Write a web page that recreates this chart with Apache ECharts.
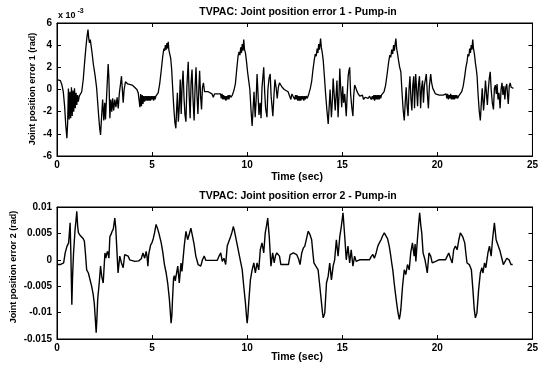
<!DOCTYPE html>
<html>
<head>
<meta charset="utf-8">
<script src="https://cdn.jsdelivr.net/npm/echarts@6/dist/echarts.min.js"></script>
<style>
html,body{margin:0;padding:0;background:#fff;}
#chart{width:541px;height:366px;}
</style>
</head>
<body>
<div id="chart"></div>
<script>
// Time ticks (sec)
const timeTicks = [0, 5, 10, 15, 20, 25];
// Joint position error 1 axis ticks (x 10^-3 rad)
const err1Ticks = [-6, -4, -2, 0, 2, 4, 6];
// Joint position error 2 axis ticks (rad)
const err2Ticks = [-0.015, -0.01, -0.005, 0, 0.005, 0.01];

const title1 = "TVPAC: Joint position error 1 - Pump-in";
const title2 = "TVPAC: Joint position error 2 - Pump-in";
const xName = "Time (sec)";
const yName1 = "Joint position error 1 (rad)";
const yName2 = "Joint position error 2 (rad)";

// [time (sec), error 1 (x 10^-3 rad)]
const err1 = [
[0.00,0.9],[0.08,1.0],[0.18,0.8],[0.26,0.4],[0.33,-0.2],[0.40,-1.5],[0.46,-3.2],[0.52,-4.4],[0.56,-3.0],[0.60,0.1],
[0.64,-2.7],[0.68,-0.2],[0.72,-2.6],[0.76,0.2],[0.80,-2.4],[0.84,-0.1],[0.88,-2.0],[0.92,0.1],[0.96,-1.7],[1.00,-0.3],
[1.04,-1.4],[1.08,-0.5],[1.12,-1.1],[1.17,-0.6],[1.22,-0.7],[1.30,-0.2],[1.38,0.9],[1.45,2.4],[1.52,3.8],[1.58,4.8],
[1.63,5.4],[1.67,4.6],[1.71,4.2],[1.75,4.5],[1.79,4.0],[1.85,3.2],[1.91,2.3],[2.00,1.3],[2.08,0.2],[2.14,-1.2],
[2.20,-2.6],[2.25,-3.6],[2.29,-4.1],[2.34,-2.6],[2.40,-0.9],[2.46,-2.8],[2.51,-1.2],[2.55,-2.7],[2.62,-0.2],[2.69,2.3],
[2.73,1.0],[2.78,-2.6],[2.83,-0.9],[2.88,-2.0],[2.93,-0.8],[2.98,-1.9],[3.04,-0.9],[3.10,-1.6],[3.16,-0.7],[3.22,-1.7],
[3.28,-0.3],[3.34,0.5],[3.39,1.2],[3.44,-0.1],[3.48,-1.2],[3.53,0.0],[3.60,0.7],[3.65,0.8],[3.72,0.5],[3.82,0.5],
[3.95,0.4],[4.08,0.2],[4.20,0.0],[4.27,-0.3],[4.32,-1.0],[4.36,-1.6],[4.40,-0.4],[4.44,-1.5],[4.48,-0.5],[4.52,-1.3],
[4.56,-0.6],[4.60,-1.1],[4.64,-0.6],[4.68,-1.0],[4.72,-0.6],[4.76,-1.0],[4.80,-0.6],[4.84,-1.0],[4.88,-0.6],[4.92,-1.0],
[4.96,-0.6],[5.00,-0.9],[5.04,-0.6],[5.08,-1.0],[5.12,-0.6],[5.16,-0.9],[5.20,-0.6],[5.25,-0.7],[5.32,-0.3],[5.40,0.5],
[5.48,1.7],[5.56,3.0],[5.62,3.7],[5.66,3.5],[5.70,4.0],[5.74,3.6],[5.78,4.2],[5.82,3.7],[5.85,4.3],[5.88,3.6],
[5.93,3.2],[5.98,2.8],[6.03,1.8],[6.08,0.2],[6.14,-1.6],[6.20,-3.0],[6.25,-3.5],[6.29,-1.8],[6.33,-0.3],[6.38,-2.9],
[6.43,-1.6],[6.48,0.9],[6.53,-2.2],[6.58,0.4],[6.63,1.7],[6.68,-0.8],[6.73,-2.3],[6.78,-2.9],[6.83,0.3],[6.90,2.5],
[6.95,-0.5],[7.00,-2.6],[7.05,0.6],[7.10,1.8],[7.15,-0.8],[7.21,-2.8],[7.26,0.2],[7.31,2.0],[7.36,-0.5],[7.41,-2.2],
[7.46,0.1],[7.50,1.7],[7.55,-0.6],[7.60,-1.8],[7.65,0.2],[7.70,0.6],[7.76,-0.2],[7.85,-0.2],[7.95,-0.2],[8.05,-0.3],
[8.15,-0.4],[8.22,-0.7],[8.28,-0.4],[8.35,-0.5],[8.45,-0.4],[8.55,-0.5],[8.60,-0.4],[8.64,-0.8],[8.68,-0.4],[8.72,-0.9],
[8.76,-0.5],[8.80,-0.9],[8.84,-0.6],[8.88,-1.0],[8.92,-0.6],[8.96,-0.9],[9.00,-0.5],[9.04,-0.9],[9.08,-0.5],[9.14,-0.7],
[9.22,-0.5],[9.30,-0.1],[9.38,0.5],[9.45,1.8],[9.52,3.0],[9.57,3.4],[9.62,3.1],[9.66,3.8],[9.70,3.3],[9.74,4.1],
[9.78,3.5],[9.82,4.5],[9.86,3.6],[9.91,3.3],[9.96,2.6],[10.02,1.6],[10.08,0.8],[10.14,0.0],[10.20,-1.8],[10.26,-3.3],
[10.31,-1.8],[10.36,-0.2],[10.42,-2.5],[10.47,-1.0],[10.52,1.4],[10.57,-0.4],[10.62,-2.3],[10.68,-1.2],[10.73,-2.6],[10.78,0.2],
[10.83,1.2],[10.87,2.0],[10.92,-0.2],[10.97,-1.7],[11.04,-2.5],[11.09,0.0],[11.15,1.0],[11.21,1.4],[11.26,-0.6],[11.31,-1.6],
[11.35,-2.4],[11.41,-0.5],[11.46,0.9],[11.52,0.2],[11.58,-0.8],[11.64,0.2],[11.70,0.6],[11.76,0.7],[11.84,0.2],[11.95,0.0],
[12.05,-0.1],[12.15,-0.2],[12.25,-0.3],[12.30,-0.9],[12.35,-0.4],[12.40,-0.5],[12.45,-0.4],[12.50,-0.9],[12.54,-0.5],[12.58,-0.9],
[12.62,-0.5],[12.66,-1.0],[12.70,-0.6],[12.74,-1.0],[12.78,-0.6],[12.82,-1.0],[12.86,-0.6],[12.90,-0.9],[12.94,-0.6],[12.98,-1.0],
[13.02,-0.6],[13.06,-0.9],[13.10,-0.6],[13.16,-0.8],[13.24,-0.4],[13.32,0.1],[13.39,0.7],[13.46,1.8],[13.53,2.7],[13.58,3.2],
[13.63,3.0],[13.68,3.7],[13.72,3.3],[13.76,4.1],[13.80,3.6],[13.86,4.6],[13.90,3.8],[13.95,3.3],[14.00,2.6],[14.06,1.2],
[14.12,-0.3],[14.19,-1.8],[14.26,-3.1],[14.31,-1.6],[14.36,0.0],[14.43,-2.5],[14.48,-1.0],[14.52,1.0],[14.58,-0.6],[14.63,-1.9],
[14.68,-0.4],[14.72,0.8],[14.78,-2.5],[14.83,-0.5],[14.87,1.9],[14.92,0.0],[14.97,-1.6],[15.02,0.3],[15.07,-1.2],[15.13,-0.4],
[15.21,-2.4],[15.26,-0.4],[15.31,1.2],[15.35,1.7],[15.39,2.0],[15.44,-0.4],[15.50,-1.6],[15.56,-2.4],[15.60,-0.6],[15.65,0.4],
[15.70,0.2],[15.76,-0.1],[15.84,-0.4],[15.92,-0.6],[16.00,-0.7],[16.06,-0.5],[16.12,-0.9],[16.20,-0.7],[16.28,-0.6],[16.36,-0.8],
[16.44,-0.6],[16.52,-0.9],[16.58,-0.6],[16.62,-0.9],[16.66,-0.5],[16.70,-1.0],[16.74,-0.5],[16.78,-0.9],[16.82,-0.5],[16.86,-0.9],
[16.90,-0.5],[16.94,-0.9],[16.98,-0.5],[17.02,-0.8],[17.06,-0.5],[17.12,-0.6],[17.20,-0.2],[17.28,0.4],[17.36,1.4],[17.44,2.5],
[17.50,3.1],[17.55,2.9],[17.60,3.6],[17.65,3.2],[17.70,4.0],[17.74,3.5],[17.78,4.1],[17.82,4.6],[17.86,3.7],[17.91,3.2],
[17.96,2.6],[18.02,2.0],[18.08,1.6],[18.14,-0.2],[18.20,-1.8],[18.26,-2.8],[18.31,-1.2],[18.36,0.2],[18.41,-1.5],[18.46,-2.4],
[18.51,0.0],[18.56,1.2],[18.61,-0.8],[18.66,-1.9],[18.71,0.4],[18.76,1.2],[18.80,-1.7],[18.86,1.4],[18.91,0.0],[18.96,-1.5],
[19.01,0.5],[19.06,1.2],[19.12,-1.7],[19.17,0.2],[19.22,0.8],[19.27,-1.2],[19.32,0.4],[19.37,0.9],[19.42,1.4],[19.47,-0.3],
[19.53,-1.7],[19.58,0.3],[19.65,1.4],[19.70,0.6],[19.76,0.1],[19.82,-0.1],[19.90,-0.4],[20.00,-0.5],[20.10,-0.5],[20.20,-0.6],
[20.30,-0.5],[20.40,-0.6],[20.46,-0.4],[20.50,-0.8],[20.54,-0.4],[20.58,-0.9],[20.62,-0.5],[20.66,-0.8],[20.70,-0.4],[20.74,-0.9],
[20.78,-0.5],[20.82,-0.9],[20.86,-0.5],[20.90,-0.9],[20.94,-0.5],[20.98,-0.8],[21.02,-0.5],[21.06,-0.8],[21.12,-0.6],[21.20,-0.5],
[21.28,-0.2],[21.36,0.3],[21.44,1.2],[21.50,2.0],[21.56,2.5],[21.61,3.2],[21.66,3.0],[21.70,3.7],[21.74,3.3],[21.78,4.0],
[21.82,3.6],[21.86,4.5],[21.90,3.7],[21.95,3.2],[22.00,2.4],[22.05,1.8],[22.09,1.2],[22.14,-0.4],[22.20,-1.9],[22.26,-2.8],
[22.31,-1.3],[22.36,0.1],[22.43,-1.9],[22.48,-0.8],[22.53,0.8],[22.58,-0.3],[22.63,-1.4],[22.68,0.0],[22.73,1.0],[22.78,1.6],
[22.83,0.0],[22.89,-1.2],[22.95,-1.8],[23.00,0.1],[23.05,0.4],[23.10,-0.4],[23.14,0.5],[23.19,-0.9],[23.24,-0.3],[23.30,-1.7],
[23.35,0.0],[23.40,0.6],[23.45,-0.5],[23.50,0.3],[23.55,-0.9],[23.60,0.2],[23.65,0.5],[23.69,-0.5],[23.73,-1.3],[23.78,0.3],
[23.83,0.6],[23.88,0.2],[23.94,0.2],[24.00,0.1]
];

// [time (sec), error 2 (rad)]
const err2 = [
[0.00,-0.0009],[0.17,-0.0009],[0.35,-0.0006],[0.43,0.0013],[0.52,0.0025],[0.57,0.0022],[0.61,0.0032],[0.65,0.0050],[0.69,0.0070],[0.73,0.0010],
[0.78,-0.0085],[0.82,-0.0030],[0.87,0.0013],[0.95,0.0057],[1.00,0.0075],[1.04,0.0092],[1.09,0.0062],[1.13,0.0051],[1.20,0.0047],[1.30,0.0044],
[1.38,0.0040],[1.44,0.0035],[1.50,0.0010],[1.56,-0.0019],[1.65,-0.0025],[1.74,-0.0028],[1.82,-0.0050],[1.90,-0.0065],[1.96,-0.0082],[2.02,-0.0115],
[2.06,-0.0138],[2.10,-0.0110],[2.14,-0.0075],[2.22,-0.0044],[2.29,-0.0012],[2.35,-0.0031],[2.43,-0.0044],[2.52,0.0013],[2.57,0.0003],[2.62,0.0012],
[2.66,0.0016],[2.73,0.0003],[2.78,0.0044],[2.84,0.0048],[2.90,0.0054],[2.96,0.0058],[3.04,0.0079],[3.09,0.0060],[3.13,0.0032],[3.21,-0.0025],
[3.30,0.0007],[3.39,-0.0006],[3.48,-0.0015],[3.56,0.0010],[3.65,0.0010],[3.74,0.0007],[3.82,0.0000],[3.91,-0.0003],[4.10,-0.0003],[4.30,-0.0002],
[4.43,0.0002],[4.48,0.0008],[4.52,0.0013],[4.61,0.0003],[4.69,0.0016],[4.74,0.0004],[4.78,-0.0012],[4.82,0.0010],[4.87,0.0019],[4.92,0.0028],
[4.99,0.0032],[5.06,0.0040],[5.13,0.0051],[5.21,0.0067],[5.28,0.0060],[5.36,0.0050],[5.48,0.0032],[5.56,0.0015],[5.65,-0.0009],[5.74,-0.0025],
[5.82,-0.0044],[5.91,-0.0075],[5.96,-0.0100],[6.00,-0.0120],[6.04,-0.0105],[6.08,-0.0070],[6.13,-0.0035],[6.17,-0.0030],[6.22,-0.0040],[6.26,-0.0031],
[6.35,-0.0012],[6.43,-0.0044],[6.52,-0.0006],[6.57,-0.0022],[6.61,-0.0022],[6.69,0.0026],[6.78,0.0054],[6.87,0.0038],[6.95,0.0048],[7.04,0.0060],
[7.13,0.0044],[7.21,0.0029],[7.30,0.0007],[7.42,-0.0009],[7.56,-0.0012],[7.65,0.0000],[7.74,0.0007],[7.82,-0.0001],[8.00,-0.0001],[8.20,-0.0001],
[8.43,-0.0001],[8.52,0.0007],[8.61,0.0013],[8.69,-0.0003],[8.78,0.0003],[8.87,-0.0009],[8.95,0.0026],[9.04,0.0035],[9.13,0.0044],[9.20,0.0052],
[9.27,0.0063],[9.33,0.0055],[9.39,0.0044],[9.48,0.0028],[9.56,0.0013],[9.65,-0.0003],[9.74,-0.0019],[9.82,-0.0050],[9.91,-0.0082],[9.96,-0.0105],
[10.00,-0.0120],[10.04,-0.0105],[10.08,-0.0082],[10.17,-0.0038],[10.26,-0.0019],[10.35,-0.0006],[10.43,-0.0025],[10.52,-0.0006],[10.61,-0.0019],[10.69,0.0019],
[10.78,0.0032],[10.87,0.0013],[10.95,0.0051],[11.02,0.0065],[11.08,0.0079],[11.16,0.0044],[11.25,-0.0012],[11.34,0.0013],[11.42,-0.0006],[11.49,0.0008],
[11.56,0.0013],[11.63,0.0010],[11.70,0.0007],[11.77,-0.0009],[11.95,-0.0009],[12.17,-0.0009],[12.26,0.0010],[12.35,0.0012],[12.43,0.0013],[12.52,0.0010],
[12.60,0.0010],[12.70,0.0002],[12.78,-0.0009],[12.87,0.0013],[12.95,0.0022],[13.03,0.0026],[13.09,0.0029],[13.15,0.0045],[13.21,0.0054],[13.30,0.0048],
[13.39,0.0038],[13.45,0.0015],[13.51,-0.0006],[13.61,-0.0012],[13.73,-0.0019],[13.82,-0.0050],[13.91,-0.0082],[13.96,-0.0100],[14.00,-0.0110],[14.04,-0.0108],
[14.08,-0.0101],[14.17,-0.0044],[14.26,-0.0031],[14.34,-0.0006],[14.43,-0.0038],[14.52,-0.0012],[14.60,0.0000],[14.69,0.0038],[14.78,0.0007],[14.87,0.0044],
[14.95,0.0063],[15.04,0.0089],[15.13,0.0044],[15.21,0.0000],[15.30,0.0026],[15.39,-0.0006],[15.47,0.0019],[15.56,-0.0012],[15.65,0.0007],[15.73,-0.0003],
[15.91,0.0000],[16.20,0.0000],[16.43,0.0000],[16.52,0.0006],[16.61,0.0010],[16.69,0.0003],[16.78,0.0013],[16.87,0.0026],[16.95,0.0032],[17.04,0.0038],
[17.12,0.0045],[17.21,0.0051],[17.30,0.0048],[17.38,0.0040],[17.47,0.0026],[17.54,0.0010],[17.60,-0.0006],[17.66,-0.0020],[17.73,-0.0044],[17.80,-0.0065],
[17.86,-0.0082],[17.93,-0.0100],[18.00,-0.0113],[18.04,-0.0105],[18.08,-0.0094],[18.17,-0.0050],[18.26,-0.0019],[18.34,-0.0028],[18.43,-0.0009],[18.52,-0.0019],
[18.60,0.0013],[18.69,0.0032],[18.74,0.0018],[18.78,0.0007],[18.83,0.0030],[18.87,-0.0003],[18.95,0.0038],[19.01,0.0065],[19.07,0.0089],[19.13,0.0065],
[19.18,0.0051],[19.25,0.0013],[19.35,0.0000],[19.41,-0.0012],[19.47,-0.0025],[19.56,0.0013],[19.65,0.0007],[19.73,-0.0006],[19.91,-0.0003],[20.08,0.0000],
[20.30,0.0000],[20.43,0.0000],[20.52,0.0007],[20.60,0.0013],[20.69,0.0003],[20.78,-0.0006],[20.86,0.0019],[20.95,0.0026],[21.04,0.0019],[21.13,0.0038],
[21.21,0.0051],[21.33,0.0044],[21.44,0.0032],[21.50,0.0012],[21.56,-0.0006],[21.68,-0.0009],[21.79,-0.0019],[21.87,-0.0057],[21.94,-0.0094],[22.00,-0.0110],
[22.04,-0.0108],[22.08,-0.0101],[22.17,-0.0057],[22.26,-0.0025],[22.34,-0.0015],[22.40,-0.0025],[22.48,-0.0006],[22.55,-0.0015],[22.66,0.0013],[22.74,0.0026],
[22.83,0.0007],[22.90,0.0038],[23.00,0.0070],[23.09,0.0038],[23.18,0.0038],[23.30,0.0016],[23.39,0.0003],[23.47,-0.0009],[23.56,-0.0009],[23.65,0.0003],
[23.77,0.0000],[23.87,-0.0009],[23.96,-0.0009]
];

const FONT = "'Liberation Sans', Arial, Helvetica, sans-serif";
const chart = echarts.init(document.getElementById('chart'), null, {renderer: 'canvas'});

function step(a){ return a[1] - a[0]; }
function fmt(v){ return String(+v.toFixed(4)); }

const labelStyle = {color: '#000', fontFamily: FONT, fontSize: 10, fontWeight: 'bold'};
const tickStyle = {show: true, inside: true, length: 4, lineStyle: {color: '#000', width: 1}};
const lineAxis = {show: true, onZero: false, lineStyle: {color: '#000', width: 1}};

function xAxes(gi){
  const base = {type: 'value', gridIndex: gi, min: timeTicks[0], max: timeTicks[timeTicks.length-1], interval: step(timeTicks), splitLine: {show: false}, axisLine: lineAxis, axisTick: tickStyle};
  return [
    Object.assign({}, base, {position: 'bottom', axisLabel: Object.assign({margin: 4, formatter: fmt}, labelStyle)}),
    Object.assign({}, base, {position: 'top', axisLabel: {show: false}})
  ];
}
function yAxes(gi, ticks){
  const base = {type: 'value', gridIndex: gi, min: ticks[0], max: ticks[ticks.length-1], interval: step(ticks), splitLine: {show: false}, axisLine: lineAxis, axisTick: tickStyle};
  return [
    Object.assign({}, base, {position: 'left', axisLabel: Object.assign({margin: 5, formatter: fmt}, labelStyle)}),
    Object.assign({}, base, {position: 'right', axisLabel: {show: false}})
  ];
}

function txt(x, y, text, size, extra){
  return Object.assign({type: 'text', x: x, y: y, silent: true,
    style: {text: text, fill: '#000', font: 'bold ' + size + 'px ' + FONT, textAlign: 'center', textVerticalAlign: 'middle'}}, extra || {});
}

const option = {
  animation: false,
  backgroundColor: '#fff',
  grid: [
    {left: 57, top: 23, width: 479, height: 133, show: true, borderColor: '#000', borderWidth: 1, backgroundColor: 'transparent'},
    {left: 57, top: 207, width: 479, height: 132, show: true, borderColor: '#000', borderWidth: 1, backgroundColor: 'transparent'}
  ],
  xAxis: [].concat(xAxes(0), xAxes(1)),
  yAxis: [].concat(yAxes(0, err1Ticks), yAxes(1, err2Ticks)),
  series: [
    {type: 'line', xAxisIndex: 0, yAxisIndex: 0, data: err1, showSymbol: false, symbol: 'none',
     lineStyle: {color: '#000', width: 1.3}, silent: true},
    {type: 'line', xAxisIndex: 2, yAxisIndex: 2, data: err2, showSymbol: false, symbol: 'none',
     lineStyle: {color: '#000', width: 1.4}, silent: true}
  ],
  graphic: [
    txt(298, 12, title1, 10.5),
    txt(298, 196, title2, 10.5),
    txt(297, 177, xName, 10.5),
    txt(297, 357, xName, 10.5),
    txt(33, 89, yName1, 9, {rotation: Math.PI / 2}),
    txt(14, 267, yName2, 9, {rotation: Math.PI / 2}),
    {type: 'text', x: 58, y: 15.5, silent: true, style: {text: 'x 10', fill: '#000', font: 'bold 9px ' + FONT, textAlign: 'left', textVerticalAlign: 'middle'}},
    {type: 'text', x: 77.5, y: 11, silent: true, style: {text: '-3', fill: '#000', font: 'bold 7px ' + FONT, textAlign: 'left', textVerticalAlign: 'middle'}}
  ]
};
chart.setOption(option);
</script>
</body>
</html>
